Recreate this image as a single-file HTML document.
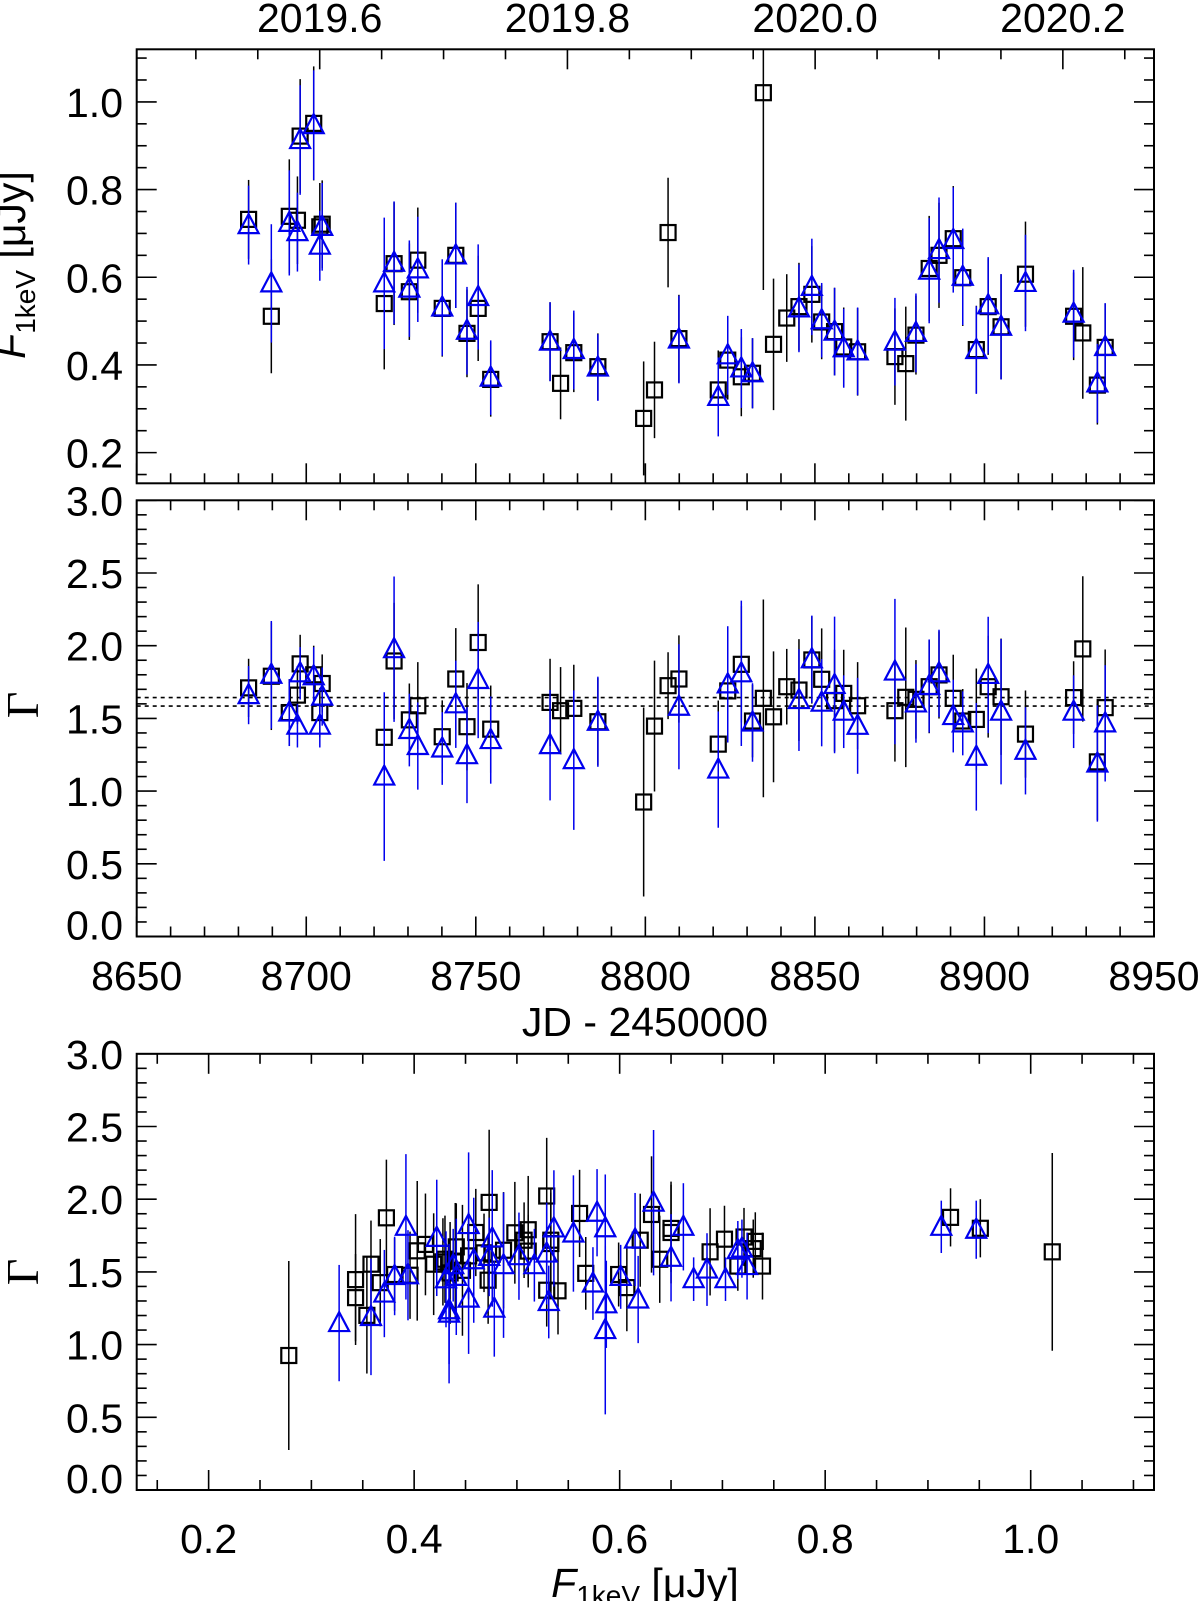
<!DOCTYPE html>
<html><head><meta charset="utf-8"><title>X-ray flux and photon index light curve</title>
<style>
html,body{margin:0;padding:0;background:#fff;}
svg{display:block;font-family:"Liberation Sans",sans-serif;}
</style></head>
<body>
<svg id="chart" xmlns="http://www.w3.org/2000/svg" width="1200" height="1601" viewBox="0 0 1200 1601">
<rect x="0" y="0" width="1200" height="1601" fill="#fff"/>
<g id="p1"></g>
<g id="p2"></g>
<g id="p3"></g>
<text x="25" y="265" font-size="41" text-anchor="middle" transform="rotate(-90 25 265)"><tspan font-style="italic">F</tspan><tspan font-size="28" dy="10">1keV</tspan><tspan dy="-10"> [μJy]</tspan></text>
<text x="38" y="705" font-size="46" font-family="Liberation Serif, serif" text-anchor="middle" transform="rotate(-90 38 705)">Γ</text>
<text x="38" y="1272" font-size="46" font-family="Liberation Serif, serif" text-anchor="middle" transform="rotate(-90 38 1272)">Γ</text>
<text x="645" y="1036" font-size="41" text-anchor="middle">JD - 2450000</text>
<text x="645" y="1597" font-size="41" text-anchor="middle"><tspan font-style="italic">F</tspan><tspan font-size="28" dy="8">1keV</tspan><tspan dy="-8"> [μJy]</tspan></text>
</svg>
<script>
const jd = [8683.0,8689.7,8695.0,8697.4,8698.2,8702.2,8704.0,8704.7,8723.0,8725.9,8730.4,8732.9,8740.1,8744.1,8747.4,8750.7,8754.4,8771.9,8775.0,8778.9,8786.0,8799.5,8802.7,8806.7,8809.9,8821.5,8824.3,8828.3,8831.6,8834.8,8837.8,8841.7,8845.3,8849.1,8852.0,8855.8,8858.5,8862.6,8873.6,8876.8,8879.8,8883.7,8886.6,8890.8,8893.6,8897.6,8901.1,8904.9,8912.1,8926.3,8929.0,8933.3,8935.6];
const fluxSq = [0.732,0.511,0.739,0.730,0.922,0.951,0.715,0.721,0.540,0.631,0.567,0.639,0.529,0.650,0.472,0.529,0.367,0.453,0.358,0.428,0.396,0.278,0.343,0.702,0.460,0.343,0.411,0.373,0.381,1.021,0.447,0.507,0.533,0.561,0.498,0.476,0.441,0.430,0.419,0.403,0.468,0.620,0.650,0.688,0.599,0.435,0.533,0.487,0.607,0.511,0.473,0.354,0.440];
const fluxSqErr = [0.09,0.13,0.13,0.10,0.13,0.13,0.10,0.10,0.15,0.14,0.11,0.12,0.11,0.12,0.10,0.12,0.085,0.09,0.082,0.09,0.076,0.13,0.11,0.125,0.10,0.09,0.09,0.09,0.08,0.45,0.15,0.10,0.10,0.11,0.085,0.10,0.09,0.10,0.11,0.13,0.09,0.12,0.12,0.12,0.11,0.10,0.11,0.12,0.12,0.10,0.15,0.09,0.10];
const fluxTri = [0.719,0.586,0.724,0.703,0.913,0.947,0.672,0.715,0.586,0.633,0.574,0.618,0.531,0.650,0.478,0.555,0.371,0.453,null,0.434,0.394,null,null,null,0.458,0.327,0.422,0.392,0.381,null,null,null,0.529,0.578,0.502,0.476,0.438,0.431,0.453,null,0.473,0.615,0.662,0.685,0.601,0.434,0.536,0.487,0.587,0.517,null,0.358,0.441];
const fluxTriErr = [0.09,0.135,0.12,0.09,0.125,0.125,0.08,0.10,0.15,0.14,0.11,0.12,0.11,0.12,0.10,0.12,0.085,0.09,null,0.09,0.076,null,null,null,0.10,0.09,0.09,0.09,0.08,null,null,null,0.10,0.11,0.085,0.10,0.09,0.10,0.10,null,0.09,0.12,0.12,0.12,0.11,0.10,0.11,0.12,0.11,0.10,null,0.09,0.10];
const gamSq = [1.71,1.79,1.54,1.66,1.875,1.80,1.54,1.74,1.37,1.895,1.49,1.587,1.374,1.771,1.443,2.022,1.426,1.610,1.553,1.569,1.477,0.925,1.447,1.725,1.771,1.323,1.689,1.872,1.482,1.638,1.511,1.718,1.695,1.902,1.769,1.622,1.672,1.587,1.553,1.645,1.631,1.718,1.799,1.638,1.482,1.493,1.718,1.649,1.392,1.643,1.978,1.201,1.574];
const gamSqErr = [0.2,0.37,0.23,0.2,0.2,0.2,0.17,0.2,0.3,0.4,0.25,0.3,0.25,0.35,0.3,0.4,0.3,0.3,0.3,0.3,0.3,0.65,0.45,0.23,0.3,0.3,0.35,0.4,0.25,0.68,0.45,0.26,0.35,0.3,0.35,0.35,0.3,0.3,0.35,0.48,0.27,0.32,0.3,0.3,0.22,0.35,0.35,0.4,0.3,0.25,0.5,0.4,0.4];
const gamTri = [1.66,1.80,1.54,1.45,1.81,1.79,1.45,1.65,1.10,1.976,1.42,1.31,1.293,1.597,1.247,1.764,1.351,1.316,null,1.213,1.477,null,null,null,1.580,1.148,1.734,1.810,1.472,null,null,null,1.626,1.907,1.608,1.730,1.546,1.449,1.822,null,1.603,1.723,1.810,1.516,1.466,1.236,1.799,1.546,1.277,1.546,null,1.190,1.466];
const gamTriErr = [0.2,0.37,0.23,0.15,0.18,0.2,0.15,0.2,0.58,0.5,0.25,0.3,0.25,0.3,0.33,0.4,0.3,0.38,null,0.48,0.31,null,null,null,0.43,0.4,0.4,0.5,0.27,null,null,null,0.35,0.3,0.3,0.47,0.25,0.33,0.5,null,0.27,0.32,0.3,0.25,0.22,0.37,0.4,0.5,0.3,0.25,null,0.4,0.4];
const refGamma = [1.643,1.585];
const jdTicks = [8650,8700,8750,8800,8850,8900,8950];
const yearTicks = [2019.6,2019.8,2020.0,2020.2];
const fluxYTicks = [0.2,0.4,0.6,0.8,1.0];
const gammaTicks = [0.0,0.5,1.0,1.5,2.0,2.5,3.0];
const fluxXTicks = [0.2,0.4,0.6,0.8,1.0];

const NS = "http://www.w3.org/2000/svg";
const L = 136.7, R = 1154;
const P1 = {t:49.3, b:483.3}, P2 = {t:500.3, b:936.5}, P3 = {t:1053.8, b:1490};
const xJ = j => L + (j - 8650) * (R - L) / 300;
const yF = v => P1.b - (v - 0.13) * (P1.b - P1.t) / 0.99;
const yG2 = g => P2.b - g * (P2.b - P2.t) / 3.0;
const yG3 = g => P3.b - g * (P3.b - P3.t) / 3.0;
const xF = f => L + (f - 0.13) * (R - L) / 0.99;
const yrToJD = y => 8703.97 + (y - 2019.6) * 365.25;

function mk(tag, parent, attrs) {
  const e = document.createElementNS(NS, tag);
  for (const k in attrs) e.setAttribute(k, attrs[k]);
  parent.appendChild(e);
  return e;
}
function line(parent, x1, y1, x2, y2, stroke, w, name) {
  const e = mk('line', parent, {x1:x1, y1:y1, x2:x2, y2:y2, stroke:stroke, 'stroke-width':w});
  
  
  return e;
}
function label(parent, x, y, txt, anchor, name) {
  const e = mk('text', parent, {x:x, y:y, 'font-size':41, 'text-anchor':anchor, fill:'#000'});
  e.textContent = txt;
  
  
  return e;
}
function frame(parent, P, name) {
  const e = mk('rect', parent, {x:L, y:P.t, width:R-L, height:P.b-P.t, fill:'none', stroke:'#000', 'stroke-width':2});
  
  
}
function xTicksOnEdge(parent, P, fx, lo, hi, minorStep, majorStep, top) {
  const n = Math.round((hi - lo) / minorStep);
  for (let i = 0; i <= n; i++) {
    const v = lo + i * minorStep;
    const x = fx(v);
    if (x < L - 0.5 || x > R + 0.5) continue;
    const major = Math.abs(v / majorStep - Math.round(v / majorStep)) < 1e-6;
    const len = major ? 20 : 10;
    if (top) line(parent, x, P.t, x, P.t + len, '#000', 1.6, 'x-tick-top');
    else line(parent, x, P.b, x, P.b - len, '#000', 1.6, 'x-tick');
  }
}
function yTicks(parent, P, fy, lo, hi, minorStep, majorStep) {
  const n = Math.round((hi - lo) / minorStep);
  for (let i = 0; i <= n; i++) {
    const v = lo + i * minorStep;
    const y = fy(v);
    if (y < P.t - 0.5 || y > P.b + 0.5) continue;
    const major = Math.abs(v / majorStep - Math.round(v / majorStep)) < 1e-6;
    const len = major ? 20 : 10;
    line(parent, L, y, L + len, y, '#000', 1.6, 'y-tick');
    line(parent, R, y, R - len, y, '#000', 1.6, 'y-tick-right');
  }
}
function square(parent, x, y, name) {
  const e = mk('rect', parent, {x:x-7.5, y:y-7.5, width:15, height:15, fill:'none', stroke:'#000', 'stroke-width':2.2});
  
  
}
function tri(parent, x, y, name) {
  const e = mk('polygon', parent, {points:(x)+','+(y-11)+' '+(x-10)+','+(y+8)+' '+(x+10)+','+(y+8), fill:'none', stroke:'#0000ee', 'stroke-width':2.2});
  
  
}

const p1 = document.getElementById('p1');
const p2 = document.getElementById('p2');
const p3 = document.getElementById('p3');

frame(p1, P1, 'flux-panel-frame');
xTicksOnEdge(p1, P1, xJ, 8650, 8950, 10, 50, false);
xTicksOnEdge(p1, P1, y => xJ(yrToJD(y)), 2019.45, 2020.30, 0.05, 0.2, true);
yTicks(p1, P1, yF, 0.15, 1.1, 0.05, 0.2);
fluxYTicks.forEach(v => label(p1, 123, yF(v) + 15, v.toFixed(1), 'end', 'flux-y-tick-label'));
yearTicks.forEach(y => label(p1, xJ(yrToJD(y)), 32, y.toFixed(1), 'middle', 'year-tick-label'));

frame(p2, P2, 'gamma-time-panel-frame');
xTicksOnEdge(p2, P2, xJ, 8650, 8950, 10, 50, false);
xTicksOnEdge(p2, P2, xJ, 8650, 8950, 10, 50, true);
yTicks(p2, P2, yG2, 0, 3.0, 0.1, 0.5);
gammaTicks.forEach(g => {
  let y = yG2(g) + 15;
  if (g === 0) y -= 12;
  label(p2, 123, y, g.toFixed(1), 'end', 'gamma-y-tick-label');
});
jdTicks.forEach(j => label(p2, xJ(j), 990, String(j), 'middle', 'jd-x-tick-label'));
refGamma.forEach(g => {
  const e = line(p2, L, yG2(g), R, yG2(g), '#000', 1.6, 'reference-gamma-line');
  e.setAttribute('stroke-dasharray', '4,4');
});

frame(p3, P3, 'gamma-flux-panel-frame');
xTicksOnEdge(p3, P3, xF, 0.15, 1.1, 0.05, 0.2, false);
xTicksOnEdge(p3, P3, xF, 0.15, 1.1, 0.05, 0.2, true);
yTicks(p3, P3, yG3, 0, 3.0, 0.1, 0.5);
gammaTicks.forEach(g => {
  let y = yG3(g) + 15;
  if (g === 0) y -= 12;
  label(p3, 123, y, g.toFixed(1), 'end', 'gamma-y-tick-label');
});
fluxXTicks.forEach(f => label(p3, xF(f), 1553, f.toFixed(1), 'middle', 'flux-x-tick-label'));

const gSqA = mk('g', p1, {});  
const gTrA = mk('g', p1, {});  
const gSqB = mk('g', p2, {});  
const gTrB = mk('g', p2, {});  
const gSqC = mk('g', p3, {});  
const gTrC = mk('g', p3, {});  

function clampY(y, P) { return Math.max(P.t, Math.min(P.b, y)); }

for (let i = 0; i < jd.length; i++) {
  const x = xJ(jd[i]);
  line(gSqA, x, clampY(yF(fluxSq[i] + fluxSqErr[i]), P1), x, clampY(yF(fluxSq[i] - fluxSqErr[i]), P1), '#000', 1.5, 'flux-error-bar');
  square(gSqA, x, yF(fluxSq[i]), 'flux-square-point');
  line(gSqB, x, clampY(yG2(gamSq[i] + gamSqErr[i]), P2), x, clampY(yG2(gamSq[i] - gamSqErr[i]), P2), '#000', 1.5, 'gamma-error-bar');
  square(gSqB, x, yG2(gamSq[i]), 'gamma-square-point');
  const xf = xF(fluxSq[i]);
  line(gSqC, xf, clampY(yG3(gamSq[i] + gamSqErr[i]), P3), xf, clampY(yG3(gamSq[i] - gamSqErr[i]), P3), '#000', 1.5, 'gamma-flux-error-bar');
  square(gSqC, xf, yG3(gamSq[i]), 'gamma-flux-square-point');
}
for (let i = 0; i < jd.length; i++) {
  if (fluxTri[i] === null) continue;
  const x = xJ(jd[i]);
  line(gTrA, x, clampY(yF(fluxTri[i] + fluxTriErr[i]), P1), x, clampY(yF(fluxTri[i] - fluxTriErr[i]), P1), '#0000ee', 1.5, 'flux-error-bar-blue');
  tri(gTrA, x, yF(fluxTri[i]), 'flux-triangle-point');
  line(gTrB, x, clampY(yG2(gamTri[i] + gamTriErr[i]), P2), x, clampY(yG2(gamTri[i] - gamTriErr[i]), P2), '#0000ee', 1.5, 'gamma-error-bar-blue');
  tri(gTrB, x, yG2(gamTri[i]), 'gamma-triangle-point');
  const xf = xF(fluxTri[i]);
  line(gTrC, xf, clampY(yG3(gamTri[i] + gamTriErr[i]), P3), xf, clampY(yG3(gamTri[i] - gamTriErr[i]), P3), '#0000ee', 1.5, 'gamma-flux-error-bar-blue');
  tri(gTrC, xf, yG3(gamTri[i]), 'gamma-flux-triangle-point');
}
</script>
</body></html>
